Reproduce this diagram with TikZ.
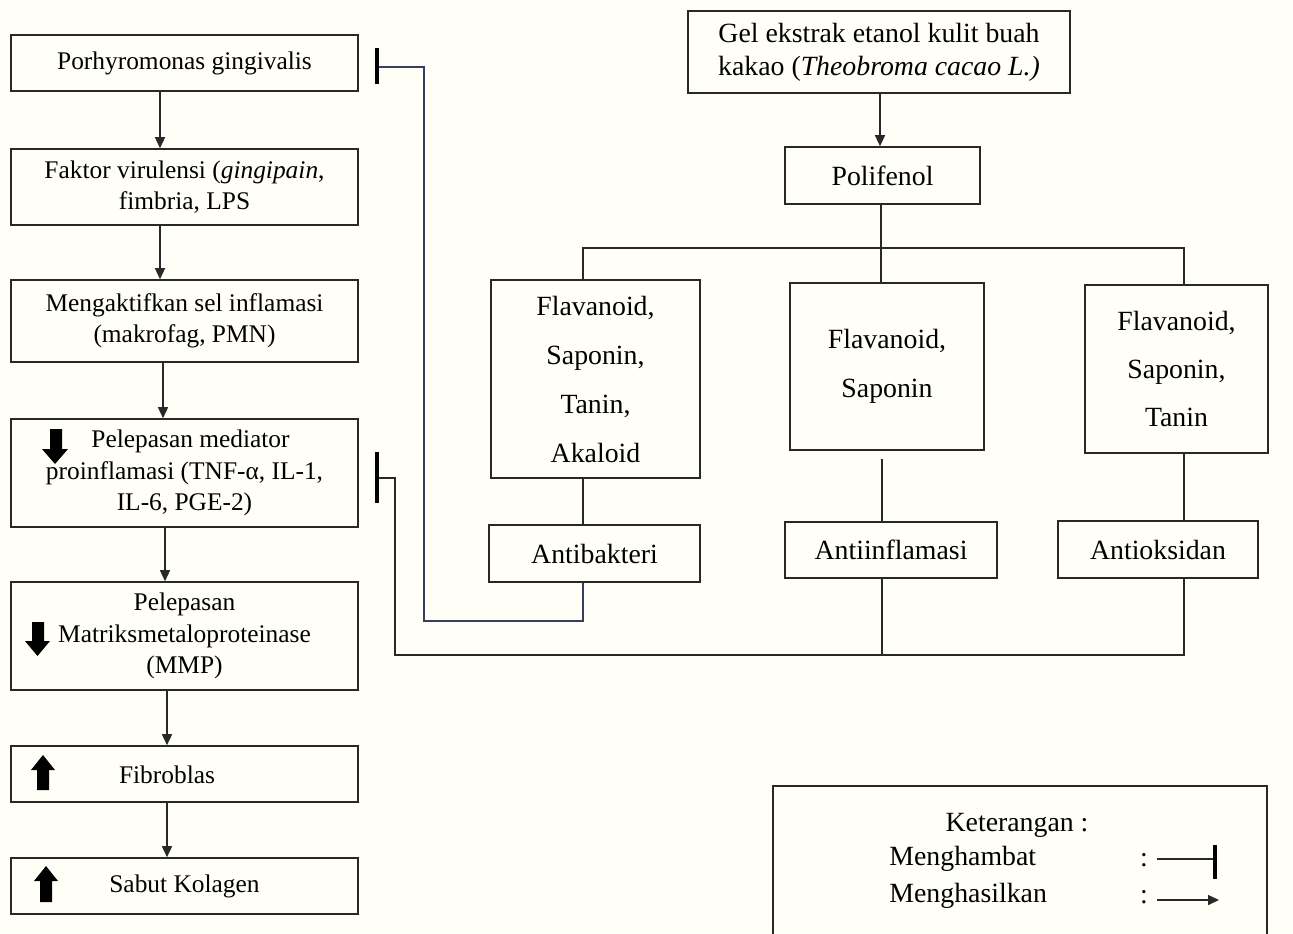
\documentclass[tikz,border=0pt]{standalone}
\usepackage{fontspec}
\setmainfont{Liberation Serif}
\usetikzlibrary{arrows.meta}
\definecolor{bgc}{RGB}{255,255,247}
\definecolor{linec}{RGB}{40,40,40}
\definecolor{inhc}{RGB}{55,62,100}
\tikzset{
  box/.style={draw=linec, line width=0.8pt, inner sep=0pt, align=center,
    font=\fontsize{12.7}{15.75}\selectfont},
  rbox/.style={box, font=\fontsize{13.9}{16.5}\selectfont},
  txt/.style={inner sep=0pt, align=center, font=\fontsize{12.7}{15.75}\selectfont},
  rtxt/.style={txt, font=\fontsize{13.9}{16.5}\selectfont},
  arr/.style={draw=linec, line width=0.7pt, -{Triangle[length=5.5pt,width=5pt]}},
  conn/.style={draw=linec, line width=0.8pt},
  inh/.style={draw=linec, line width=0.8pt},
  bar/.style={draw=black, line width=1.6pt},
  blockarr/.style={fill=black, draw=none},
}
\begin{document}
\begin{tikzpicture}[x=0.5pt, y=-0.5pt]
\useasboundingbox (0,0) rectangle (1293,933);
\fill[bgc] (0,0) rectangle (1293,933);

% left column
\node[box, minimum width=173.5pt, minimum height=28pt] (b1) at (184.5,63) {Porhyromonas gingivalis};
\node[box, minimum width=173.5pt, minimum height=38pt] (b2) at (184.5,187) {Faktor virulensi (\textit{gingipain},\\fimbria, LPS};
\node[box, minimum width=173.5pt, minimum height=41pt] (b3) at (184.5,321) {Mengaktifkan sel inflamasi\\(makrofag, PMN)};
\node[box, minimum width=173.5pt, minimum height=54pt] (b4) at (184.5,473) {\hspace*{6pt}Pelepasan mediator\\proinflamasi (TNF-α, IL-1,\\IL-6, PGE-2)};
\node[box, minimum width=173.5pt, minimum height=54pt] (b5) at (184.5,636) {Pelepasan\\Matriksmetaloproteinase\\(MMP)};
\node[box, minimum width=173.5pt, minimum height=28pt] (b6) at (184.5,774) {};
\node[txt] (b6t) at (167,775) {Fibroblas};
\node[box, minimum width=173.5pt, minimum height=28pt] (b7) at (184.5,886) {Sabut Kolagen};

% block arrows inside boxes
\fill[blockarr] (50,429) -- (62,429) -- (62,449) -- (68,449) -- (55,464) -- (42,449) -- (50,449) -- cycle;
\fill[blockarr] (32,622) -- (44,622) -- (44,641) -- (50,641) -- (37.5,656) -- (25,641) -- (32,641) -- cycle;
\fill[blockarr] (37,790) -- (49,790) -- (49,770) -- (55,770) -- (43,755) -- (31,770) -- (37,770) -- cycle;
\fill[blockarr] (40,902) -- (52,902) -- (52,881) -- (58,881) -- (46,866) -- (34,881) -- (40,881) -- cycle;

\draw[arr] ([xshift=-12.25pt]b1.south) -- ([xshift=-12.25pt]b2.north);
\draw[arr] ([xshift=-12.25pt]b2.south) -- ([xshift=-12.25pt]b3.north);
\draw[arr] ([xshift=-10.75pt]b3.south) -- ([xshift=-10.75pt]b4.north);
\draw[arr] ([xshift=-9.75pt]b4.south) -- ([xshift=-9.75pt]b5.north);
\draw[arr] ([xshift=-8.75pt]b5.south) -- ([xshift=-8.75pt]b6.north);
\draw[arr] ([xshift=-8.75pt]b6.south) -- ([xshift=-8.75pt]b7.north);

% right side
\node[rbox, minimum width=191pt, minimum height=41pt] (gel) at (879,52) {Gel ekstrak etanol kulit buah\\kakao (\textit{Theobroma cacao L.)}};
\node[rbox, minimum width=97.5pt, minimum height=28.5pt] (poli) at (882.5,175.5) {Polifenol};
\draw[arr] (gel.south -| 880,0) -- (poli.north -| 880,0);

\node[rbox, minimum width=104.5pt, minimum height=99pt, font=\fontsize{13.9}{24.5}\selectfont] (fa) at (595.5,379) {Flavanoid,\\Saponin,\\Tanin,\\Akaloid};
\node[rbox, minimum width=97pt, minimum height=83.5pt, font=\fontsize{13.9}{24.5}\selectfont] (fb) at (887,366.5) {Flavanoid,\\Saponin};
\node[rbox, minimum width=91.5pt, minimum height=84pt, font=\fontsize{13.9}{24}\selectfont] (fc) at (1176.5,369) {Flavanoid,\\Saponin,\\Tanin};

\coordinate (jA) at (583,248);
\coordinate (jC) at (1184,248);
\draw[conn] (poli.south -| 881,0) -- (fb.north -| 881,0);
\draw[conn] (fa.north -| jA) -- (jA) -- (jC) -- (fc.north -| jC);

\node[rbox, minimum width=105.5pt, minimum height=28.5pt] (abak) at (594.5,553.5) {Antibakteri};
\node[rbox, minimum width=106pt, minimum height=28pt] (ainf) at (891,550) {Antiinflamasi};
\node[rbox, minimum width=100pt, minimum height=28.5pt] (aoks) at (1158,549.5) {Antioksidan};

\draw[conn] (fa.south -| 583,0) -- (abak.north -| 583,0);
\draw[conn] ([yshift=-4pt]fb.south -| 882,0) -- (ainf.north -| 882,0);
\draw[conn] (fc.south -| 1184,0) -- (aoks.north -| 1184,0);

% inhibition 1
\coordinate (i1a) at (583,621);
\coordinate (i1b) at (424,621);
\coordinate (i1c) at (424,67);
\coordinate (i1d) at (377,67);
\draw[inh, draw=inhc] (abak.south -| i1a) -- (i1a) -- (i1b) -- (i1c) -- (i1d);
\draw[bar] (377,48) -- (377,84);

% inhibition 2
\coordinate (i2a) at (1184,655);
\coordinate (i2b) at (395,655);
\coordinate (i2c) at (395,478);
\coordinate (i2d) at (377,478);
\coordinate (i2m) at (882,655);
\draw[inh] (aoks.south -| i2a) -- (i2a) -- (i2b) -- (i2c) -- (i2d);
\draw[inh] (ainf.south -| i2m) -- (i2m);
\draw[bar] (377,452) -- (377,503);

% legend
\draw[conn] (773,940) -- (773,786) -- (1267,786) -- (1267,940);
\node[rtxt] (ket) at (1017,825) {Keterangan :};
\node[rtxt, anchor=west] (mh) at (889,859) {Menghambat};
\node[rtxt] (c1) at (1144,860) {:};
\node[rtxt, anchor=west] (ms) at (889,896) {Menghasilkan};
\node[rtxt] (c2) at (1144,897) {:};
\coordinate (l1a) at (1157,859);
\coordinate (l1b) at (1215,859);
\draw[conn] (l1a) -- (l1b);
\draw[bar] (1215,845) -- (1215,879);
\coordinate (l2a) at (1157,900);
\coordinate (l2b) at (1219,900);
\draw[arr] (l2a) -- (l2b);
\end{tikzpicture}
\end{document}
